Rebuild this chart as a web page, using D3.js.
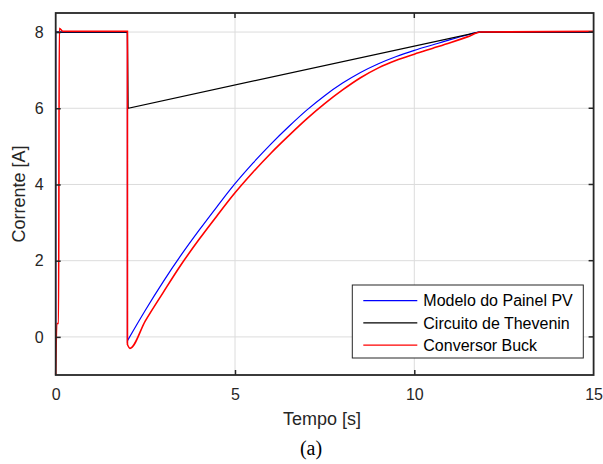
<!DOCTYPE html>
<html>
<head>
<meta charset="utf-8">
<script src="https://cdn.jsdelivr.net/npm/d3@7"></script>
<style>
  body { margin: 0; background: #fff; }
  svg { display: block; font-family: "Liberation Sans", Arial, sans-serif; }
</style>
</head>
<body>
<svg width="603" height="464"></svg>
<script>
// values: [tempo (s), corrente (A)]
var pvModel = [
  [0, 0.1], [0, 8], [2, 8], [2, -0.1], [2.5, 0.7], [3, 1.45], [3.5, 2.15],
  [4, 2.8], [4.5, 3.42], [5, 4.02], [5.5, 4.56], [6, 5.06], [6.5, 5.52],
  [7, 5.95], [7.5, 6.33], [8, 6.66], [8.5, 6.94], [9, 7.17], [9.5, 7.36],
  [10, 7.52], [10.5, 7.66], [11, 7.8], [11.5, 7.93], [11.8, 8.0], [15, 8.0]
];
var thevenin = [
  [0, 8], [2, 8], [2.02, 6], [11.8, 8], [15, 8]
];
var buck = [
  [0, -1], [0.03, 0.35], [0.08, 0.35], [0.1, 8.1], [0.2, 8.02], [2, 8.02],
  [2, -0.2], [2.07, -0.3], [2.5, 0.42], [3, 1.17], [3.5, 1.9], [4, 2.56],
  [4.5, 3.18], [5, 3.78], [5.5, 4.32], [6, 4.82], [6.5, 5.28], [7, 5.72],
  [7.5, 6.12], [8, 6.48], [8.5, 6.8], [9, 7.06], [9.5, 7.26], [10, 7.42],
  [10.5, 7.57], [11, 7.72], [11.5, 7.88], [11.85, 8.0], [15, 8.02]
];
var xTicks = [0, 5, 10, 15];
var yTicks = [0, 2, 4, 6, 8];
var seriesNames = ["Modelo do Painel PV", "Circuito de Thevenin", "Conversor Buck"];
var seriesColors = ["#0000ff", "#000000", "#ff0000"];

var svg = d3.select("svg");
var pLeft = 55.7, pRight = 593.6, pTop = 13, pBottom = 375;

var x = d3.scaleLinear().domain([0, 15]).range([pLeft, pRight]);
var y = d3.scaleLinear().domain([-1, 8.5]).range([pBottom, pTop]);

// grid
svg.append("g")
  .selectAll("line")
  .data(xTicks.slice(1, -1))
  .enter().append("line")
  .attr("x1", function(d) { return x(d); })
  .attr("x2", function(d) { return x(d); })
  .attr("y1", pTop).attr("y2", pBottom)
  .attr("stroke", "#dcdcdc").attr("stroke-width", 1);
svg.append("g")
  .selectAll("line")
  .data(yTicks)
  .enter().append("line")
  .attr("y1", function(d) { return y(d); })
  .attr("y2", function(d) { return y(d); })
  .attr("x1", pLeft).attr("x2", pRight)
  .attr("stroke", "#dcdcdc").attr("stroke-width", 1);

// lines: smooth between points, straight on the vertical jumps
function lineGen(curve) {
  return d3.line()
    .x(function(d) { return x(d[0]); })
    .y(function(d) { return y(d[1]); })
    .curve(curve);
}

function pathFor(s, curve) {
  var gen = lineGen(curve);
  var runs = [[s[0]]];
  for (var i = 1; i < s.length; i++) {
    if (s[i][0] > s[i - 1][0]) runs[runs.length - 1].push(s[i]);
    else runs.push([s[i]]);
  }
  return runs.map(function(r, i) {
    var p = r.length > 1 ? gen(r) : "M" + x(r[0][0]) + "," + y(r[0][1]);
    return i > 0 ? "L" + p.slice(1) : p;
  }).join("");
}

var plot = svg.append("g");
[pvModel, thevenin, buck].forEach(function(s, i) {
  plot.append("path")
    .attr("d", pathFor(s, i == 1 ? d3.curveLinear : d3.curveMonotoneX))
    .attr("fill", "none")
    .attr("stroke", seriesColors[i])
    .attr("stroke-width", i == 2 ? 1.6 : 1.2);
});

// axes (MATLAB-like box with inward ticks)
var xAxis = d3.axisBottom(x).tickValues(xTicks).tickSize(-5).tickPadding(14);
var yAxis = d3.axisLeft(y).tickValues(yTicks).tickSize(-5).tickPadding(12);

var gx = svg.append("g").attr("transform", "translate(0," + pBottom + ")").call(xAxis);
var gy = svg.append("g").attr("transform", "translate(" + pLeft + ",0)").call(yAxis);
[gx, gy].forEach(function(g) {
  g.select(".domain").remove();
  g.selectAll("line").attr("stroke", "#262626").attr("stroke-width", 1.5);
  g.selectAll("text").attr("fill", "#262626").style("font-size", "16px");
});
gx.selectAll(".tick line").filter(function(d) { return d == 0 || d == 15; }).remove();

// top & right ticks
svg.append("g").selectAll("line")
  .data(xTicks.slice(1, -1)).enter().append("line")
  .attr("x1", function(d) { return x(d); }).attr("x2", function(d) { return x(d); })
  .attr("y1", pTop).attr("y2", pTop + 5)
  .attr("stroke", "#262626").attr("stroke-width", 1.5);
svg.append("g").selectAll("line")
  .data(yTicks).enter().append("line")
  .attr("y1", function(d) { return y(d); }).attr("y2", function(d) { return y(d); })
  .attr("x1", pRight).attr("x2", pRight - 5)
  .attr("stroke", "#262626").attr("stroke-width", 1.5);

svg.append("rect")
  .attr("x", pLeft).attr("y", pTop)
  .attr("width", pRight - pLeft).attr("height", pBottom - pTop)
  .attr("fill", "none").attr("stroke", "#262626").attr("stroke-width", 1.8);

// labels
svg.append("text")
  .attr("x", 322).attr("y", 425)
  .attr("text-anchor", "middle")
  .attr("fill", "#262626")
  .style("font-size", "18px")
  .text("Tempo [s]");
svg.append("text")
  .attr("transform", "translate(25," + ((pTop + pBottom) / 2) + ") rotate(-90)")
  .attr("text-anchor", "middle")
  .attr("fill", "#262626")
  .style("font-size", "18px")
  .text("Corrente [A]");
svg.append("text")
  .attr("x", 311).attr("y", 455)
  .attr("text-anchor", "middle")
  .attr("fill", "#000")
  .style("font-family", "'Liberation Serif', 'Times New Roman', serif")
  .style("font-size", "20px")
  .text("(a)");

// legend
var lg = svg.append("g").attr("transform", "translate(352.3,285)");
lg.append("rect")
  .attr("width", 231).attr("height", 73)
  .attr("fill", "#fff").attr("stroke", "#262626").attr("stroke-width", 1);
var rows = lg.selectAll("g.row")
  .data(seriesNames).enter().append("g")
  .attr("transform", function(d, i) { return "translate(0," + (15.7 + i * 22.2) + ")"; });
rows.append("line")
  .attr("x1", 11).attr("x2", 65)
  .attr("stroke", function(d, i) { return seriesColors[i]; })
  .attr("stroke-width", 1.3);
rows.append("text")
  .attr("x", 71).attr("dy", "0.35em")
  .attr("fill", "#000")
  .style("font-size", "16px")
  .text(function(d) { return d; });
</script>
</body>
</html>
